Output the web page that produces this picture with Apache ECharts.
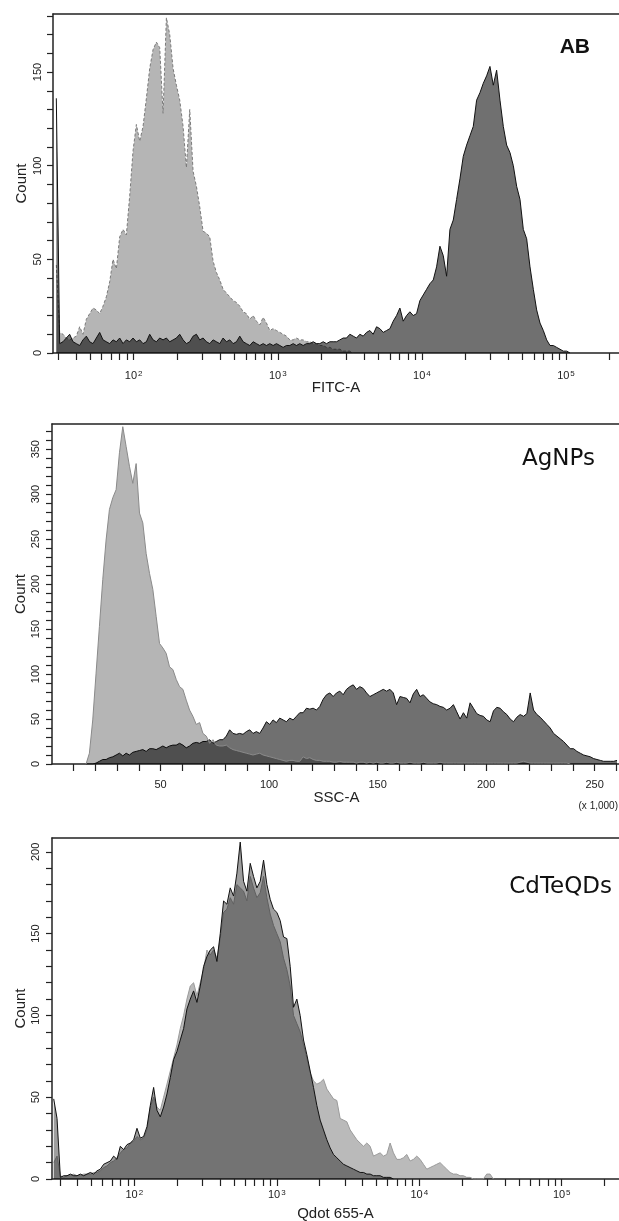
<!DOCTYPE html>
<html>
<head>
<meta charset="utf-8">
<script src="https://cdn.jsdelivr.net/npm/echarts@6.0.0/dist/echarts.min.js"></script>
<style>
html, body { margin: 0; padding: 0; background: #fff; }
#main { width: 619px; height: 1221px; }
</style>
</head>
<body>
<div id="main"></div>
<script>
var FONT = '"Liberation Sans", Arial, sans-serif';
var INK = '#222';

// AB panel - FITC-A, x in log10 units
var abBinStart = 1.463, abBinStep = 0.02315;
var abUnstained = [47,11,10,8,7,8,9,14,10,18, 21,24,23,21,25,30,38,50,45,62,
  66,63,84,108,122,113,121,136,152,162, 166,163,128,179,170,152,143,135,121,99,
  130,97,89,78,65,64,62,49,43,39, 34,32,30,28,27,25,22,21,18,20,
  17,15,19,16,12,13,12,11,10,9, 7,7,8,7,7,6,6,5,5,4,
  4,3,3,2,2,2,1,1,1,0];
var abStained = [136,5,6,8,10,6,5,4,7,9, 6,5,8,11,7,6,5,7,6,8,
  5,7,6,8,6,7,5,6,10,7, 6,8,7,8,6,7,8,10,7,5,
  6,9,10,7,8,6,5,7,6,5, 8,6,7,5,6,9,6,5,4,6,
  5,4,5,4,5,4,5,4,3,4, 4,5,4,5,4,5,5,6,5,5,
  6,5,6,6,6,7,8,8,10,9, 8,10,9,11,12,10,14,13,11,12,
  13,17,20,24,17,20,22,20,21,28, 31,34,37,39,46,57,52,41,66,71,
  82,93,105,111,116,121,135,139,144,148, 153,143,151,135,121,111,107,100,89,82,
  66,61,46,34,23,16,12,7,4,4, 3,2,1,1,0];

// AgNPs panel - SSC-A, x in thousands
var agBinStart = 15.69, agBinStep = 1.5385;
var agUnstained = [0,12,49,101,153,205,249,283,296,305,
  346,375,353,331,312,334,279,268,234,212, 194,164,134,129,123,108,105,94,86,83,
  71,60,53,44,46,34,31,23,27,21, 20,20,21,18,16,15,14,13,12,11,
  10,11,12,10,9,8,7,6,5,4, 3,4,4,3,3,8,6,7,5,4,
  4,3,3,3,2,2,3,2,2,2, 2,1,2,2,1,2,1,2,1,1,
  2,1,1,2,1,1,1,2,1,1, 1,2,1,1,1,1,2,1,1,1,
  1,1,1,1,1,1,1,1,1,1, 1,1,1,1,1,1,1,1,1,1,
  2,3,2,1,1,1,1,1,1,1, 1,1,1,1,1,0];
var agStained = [0,0,0,1,3,5,5,7,8,10,
  12,9,12,10,13,14,15,16,14,17, 17,16,18,20,18,20,21,21,23,21,
  18,20,23,24,23,25,25,27,23,25, 27,27,31,38,34,33,34,33,36,38,
  34,36,34,40,47,44,49,46,51,49, 47,51,49,53,57,57,62,61,62,60,
  64,72,77,79,75,79,81,77,83,86, 88,83,86,84,79,75,77,79,81,83,
  81,83,79,66,75,74,73,68,78,83, 75,77,73,69,67,66,64,63,60,62,
  66,58,50,57,51,68,62,56,54,53, 49,47,59,63,62,58,55,50,47,52,
  55,53,56,79,60,55,52,48,44,40, 34,31,28,25,21,17,17,14,12,10,
  9,8,6,5,4,3,3,3,3,4];

// CdTeQDs panel - Qdot 655-A, x in log10 units
var qdBinStart = 1.434, qdBinStep = 0.02338;
var qdUnstained = [10,14,2,1,2,2,3,2,2,3, 3,3,4,4,5,7,8,10,11,13,
  16,18,19,22,23,26,24,25,30,44, 50,44,42,50,58,66,74,82,92,100,
  110,118,120,112,120,128,140,137,140,135, 147,163,165,172,168,180,178,176,170,185,
  178,172,175,185,172,162,155,150,145,135, 128,118,100,95,90,82,74,65,60,58,
  59,61,55,52,49,48,37,36,35,30, 27,24,22,20,22,20,14,15,16,14,
  15,22,16,12,12,13,15,11,12,14, 12,9,6,7,8,9,10,8,6,4,
  3,3,2,2,1,1,0,0,0,0, 3,3,0];
var qdStained = [49,37,1,2,2,3,2,2,3,2, 3,4,3,5,6,9,10,11,14,12,
  20,18,21,22,24,31,25,26,32,45, 56,42,38,44,52,62,73,78,85,92,
  104,110,115,108,118,130,136,140,142,133, 150,170,168,178,173,187,206,182,176,193,
  185,178,182,195,180,171,165,163,158,148, 147,130,105,110,100,85,76,66,56,45,
  36,30,24,19,15,13,11,9,8,7, 6,5,4,4,3,3,2,2,2,1,
  1,1,0];

// tick labels
var decadeLabels = [2, 3, 4, 5];
var sscLabels = [50, 100, 150, 200, 250];
var abCountLabels = [0, 50, 100, 150];
var agCountLabels = [0, 50, 100, 150, 200, 250, 300, 350];
var qdCountLabels = [0, 50, 100, 150, 200];

function toPairs(counts, start, step) {
    return counts.map(function (c, i) { return [start + i * step, c]; });
}
function logTicks(min, max) {
    var out = [];
    for (var n = 1; n <= 5; n++) {
        for (var k = 1; k <= 9; k++) {
            var v = n + Math.log10(k);
            if (v > min && v < max) out.push(v);
        }
    }
    return out;
}
function stepTicks(from, to, by) {
    var out = [];
    for (var v = from; v <= to; v += by) out.push(v);
    return out;
}

var lineStyleAxis = { color: INK, width: 1.5 };
var tickStyle = { color: INK, width: 1.2 };
var nameStyle = { fontFamily: FONT, fontSize: 15, color: INK };
var labelStyle = { fontFamily: FONT, fontSize: 11, color: INK };

function logXAxis(grid, min, max, name, margin, gap) {
    return {
        type: 'value', gridIndex: grid, min: min, max: max, position: 'bottom',
        axisLine: { show: true, lineStyle: lineStyleAxis },
        axisTick: { show: true, length: 7, customValues: logTicks(min, max), lineStyle: tickStyle },
        axisLabel: {
            customValues: decadeLabels, margin: margin,
            formatter: function (v) { return '{b|10}{s|' + Math.round(v) + '}'; },
            rich: {
                b: { fontFamily: FONT, fontSize: 11, color: INK },
                s: { fontFamily: FONT, fontSize: 8, color: INK, verticalAlign: 'top', padding: [0, 0, 0, 1] }
            }
        },
        splitLine: { show: false },
        name: name, nameLocation: 'middle', nameGap: gap, nameTextStyle: nameStyle,
        nameMoveOverlap: false
    };
}
function topLine(grid, min, max) {
    return {
        type: 'value', gridIndex: grid, min: min, max: max, position: 'top',
        axisLine: { show: true, lineStyle: lineStyleAxis },
        axisTick: { show: false }, axisLabel: { show: false }, splitLine: { show: false }
    };
}
function countAxis(grid, max, labels, margin) {
    return {
        type: 'value', gridIndex: grid, min: 0, max: max,
        axisLine: { show: true, lineStyle: lineStyleAxis },
        axisTick: { show: true, length: 6, customValues: stepTicks(0, max, 10), lineStyle: tickStyle },
        axisLabel: Object.assign({ customValues: labels, rotate: 90, margin: margin }, labelStyle),
        splitLine: { show: false },
        name: 'Count', nameLocation: 'middle', nameGap: 24, nameTextStyle: nameStyle,
        nameMoveOverlap: false
    };
}
function hist(xi, data, line, fill, z, dashed) {
    return {
        type: 'line', xAxisIndex: xi, yAxisIndex: Math.floor(xi / 2), data: data,
        symbol: 'none', showSymbol: false, silent: true, z: z,
        lineStyle: { color: line, width: 1, type: dashed ? [3, 2] : 'solid' },
        areaStyle: { color: fill, opacity: 1 },
        animation: false
    };
}

var chart = echarts.init(document.getElementById('main'), null, { renderer: 'canvas' });

var option = {
    animation: false,
    backgroundColor: '#fff',
    grid: [
        { left: 53, top: 14, right: 0, height: 339, outerBoundsMode: 'none' },
        { left: 52, top: 424, right: -2, height: 340, outerBoundsMode: 'none' },
        { left: 52, top: 838, right: 0, height: 341, outerBoundsMode: 'none' }
    ],
    xAxis: [
        logXAxis(0, 1.44, 5.368, 'FITC-A', 17, 27),
        topLine(0, 1.44, 5.368),
        {
            type: 'value', gridIndex: 1, min: 0, max: 262.144, position: 'bottom',
            axisLine: { show: true, lineStyle: lineStyleAxis },
            axisTick: { show: true, length: 7, customValues: stepTicks(10, 260, 10), lineStyle: tickStyle },
            axisLabel: Object.assign({ customValues: sscLabels, margin: 15 }, labelStyle),
            splitLine: { show: false },
            name: 'SSC-A', nameLocation: 'middle', nameGap: 26, nameTextStyle: nameStyle,
            nameMoveOverlap: false
        },
        topLine(1, 0, 262.144),
        logXAxis(2, 1.422, 5.402, 'Qdot 655-A', 10, 27),
        topLine(2, 1.422, 5.402)
    ],
    yAxis: [
        countAxis(0, 181, abCountLabels, 10),
        countAxis(1, 378, agCountLabels, 11),
        countAxis(2, 208.5, qdCountLabels, 11)
    ],
    series: [
        hist(0, toPairs(abUnstained, abBinStart, abBinStep), '#7a7a7a', 'rgba(0,0,0,0.29)', 2, true),
        hist(0, toPairs(abStained, abBinStart, abBinStep), '#111', 'rgba(0,0,0,0.56)', 3, false),
        hist(2, toPairs(agStained, agBinStart, agBinStep), '#111', 'rgba(0,0,0,0.56)', 2, false),
        hist(2, toPairs(agUnstained, agBinStart, agBinStep), '#8a8a8a', 'rgba(0,0,0,0.29)', 3, false),
        hist(4, toPairs(qdUnstained, qdBinStart, qdBinStep), '#9a9a9a', 'rgba(0,0,0,0.27)', 2, false),
        hist(4, toPairs(qdStained, qdBinStart, qdBinStep), '#111', 'rgba(0,0,0,0.38)', 3, false)
    ],
    graphic: [
        { type: 'text', x: 590, y: 47.5, style: { text: 'AB', align: 'right', verticalAlign: 'middle',
            font: 'bold 21px ' + FONT, fill: '#111' } },
        { type: 'text', x: 595, y: 459, style: { text: 'AgNPs', align: 'right', verticalAlign: 'middle',
            font: '23px "DejaVu Sans", sans-serif', fill: '#111' } },
        { type: 'text', x: 612, y: 887, style: { text: 'CdTeQDs', align: 'right', verticalAlign: 'middle',
            font: '23px "DejaVu Sans", sans-serif', fill: '#111' } },
        { type: 'text', x: 618, y: 806, style: { text: '(x 1,000)', align: 'right', verticalAlign: 'middle',
            font: '10px ' + FONT, fill: INK } }
    ]
};
chart.setOption(option);
window.addEventListener('resize', chart.resize);
</script>
</body>
</html>
